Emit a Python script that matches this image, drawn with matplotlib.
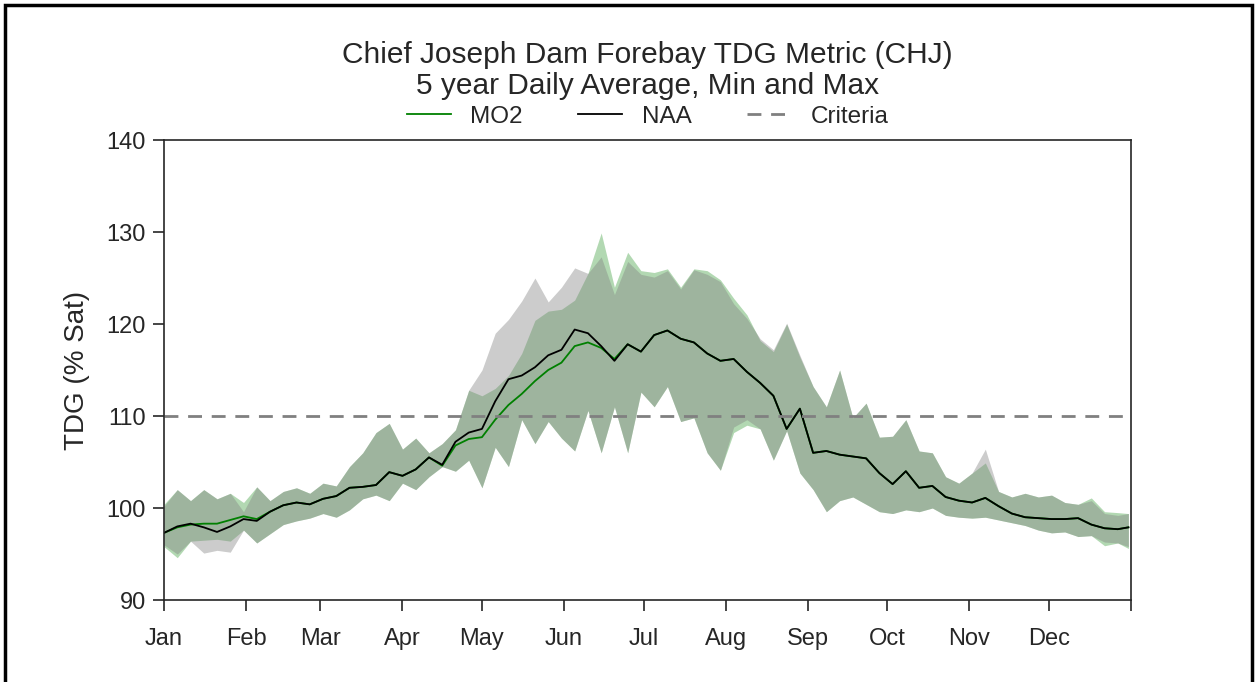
import matplotlib
matplotlib.use("Agg")
import matplotlib.pyplot as plt
from matplotlib.patches import Rectangle
import numpy as np

plt.rcParams["font.family"] = ["Liberation Sans", "DejaVu Sans"]

# day of year for each reading (5-day spacing)
days = list(range(0, 365, 5)) + [364]

naa_mean = [97.3, 98.0, 98.3, 97.9, 97.4, 98.0, 98.8, 98.6, 99.6, 100.3,
            100.6, 100.4, 101.0, 101.3, 102.2, 102.3, 102.5, 103.9, 103.5, 104.2,
            105.5, 104.7, 107.2, 108.2, 108.6, 111.6, 114.0, 114.4, 115.3, 116.6,
            117.2, 119.4, 119.0, 117.6, 116.0, 117.8, 117.0, 118.8, 119.3, 118.4,
            118.0, 116.8, 116.0, 116.2, 114.8, 113.6, 112.2, 108.6, 110.8, 106.0,
            106.2, 105.8, 105.6, 105.4, 103.8, 102.6, 104.0, 102.2, 102.4, 101.2,
            100.8, 100.6, 101.1, 100.2, 99.4, 99.0, 98.9, 98.8, 98.8, 98.9,
            98.2, 97.8, 97.7, 97.9]
mo2_mean = [97.3, 97.9, 98.2, 98.3, 98.3, 98.7, 99.1, 98.8, 99.6, 100.3,
            100.6, 100.4, 101.0, 101.3, 102.2, 102.3, 102.5, 103.9, 103.5, 104.2,
            105.5, 104.6, 106.8, 107.5, 107.7, 109.6, 111.2, 112.4, 113.8, 115.0,
            115.8, 117.6, 118.0, 117.4, 116.2, 117.8, 117.0, 118.8, 119.3, 118.4,
            118.0, 116.8, 116.0, 116.2, 114.8, 113.6, 112.2, 108.6, 110.8, 106.0,
            106.2, 105.8, 105.6, 105.4, 103.8, 102.6, 104.0, 102.2, 102.4, 101.2,
            100.8, 100.6, 101.1, 100.2, 99.4, 99.0, 98.9, 98.8, 98.8, 98.9,
            98.2, 97.8, 97.7, 97.9]

naa_max = [100.2, 102.0, 100.8, 102.0, 101.0, 101.6, 99.6, 102.3, 100.8, 101.8,
           102.2, 101.6, 102.7, 102.4, 104.5, 106.0, 108.2, 109.2, 106.4, 107.6,
           106.0, 107.0, 108.5, 112.8, 115.0, 119.0, 120.5, 122.5, 125.0, 122.4,
           124.0, 126.1, 125.5, 127.3, 123.2, 126.8, 125.4, 125.1, 125.8, 123.8,
           125.9, 125.4, 124.6, 122.2, 120.6, 118.4, 117.2, 120.1, 116.6, 113.2,
           111.0, 115.0, 109.8, 111.4, 107.7, 107.8, 109.6, 106.2, 106.0, 103.4,
           102.7, 103.8, 106.4, 101.8, 101.2, 101.6, 101.2, 101.4, 100.6, 100.4,
           100.8, 99.4, 99.2, 99.4]
mo2_max = [100.4, 102.0, 100.8, 102.0, 101.0, 101.6, 100.6, 102.3, 100.8, 101.8,
           102.2, 101.6, 102.7, 102.4, 104.5, 106.0, 108.2, 109.2, 106.4, 107.6,
           106.0, 107.0, 108.5, 112.8, 112.2, 113.0, 114.4, 116.8, 120.4, 121.4,
           121.6, 122.6, 125.5, 129.9, 124.0, 127.8, 125.8, 125.6, 126.0, 124.0,
           126.0, 125.8, 124.8, 122.8, 121.0, 118.2, 117.0, 120.0, 116.4, 113.2,
           111.0, 115.0, 109.8, 111.4, 107.7, 107.8, 109.6, 106.2, 106.0, 103.4,
           102.7, 103.8, 104.9, 101.8, 101.2, 101.6, 101.2, 101.4, 100.6, 100.4,
           101.1, 99.6, 99.5, 99.4]

naa_min = [96.0, 95.0, 96.4, 95.1, 95.4, 95.2, 97.6, 96.2, 97.2, 98.2,
           98.6, 98.9, 99.4, 99.0, 99.8, 101.0, 101.4, 100.8, 102.7, 102.0,
           103.4, 104.5, 104.0, 105.2, 102.2, 106.6, 104.5, 109.6, 107.0, 109.4,
           107.6, 106.2, 110.6, 106.0, 111.0, 106.0, 112.6, 111.0, 113.2, 109.4,
           109.8, 106.0, 104.1, 108.8, 109.6, 108.6, 105.2, 108.4, 103.8, 102.0,
           99.6, 100.8, 101.2, 100.4, 99.6, 99.4, 99.8, 99.6, 100.0, 99.2,
           99.0, 98.9, 99.0, 98.7, 98.4, 98.1, 97.6, 97.3, 97.4, 96.9,
           97.0, 96.3, 96.2, 95.8]
mo2_min = [95.8, 94.6, 96.4, 96.5, 96.6, 96.4, 97.6, 96.2, 97.2, 98.2,
           98.6, 98.9, 99.4, 99.0, 99.8, 101.0, 101.4, 100.8, 102.7, 102.0,
           103.4, 104.5, 104.0, 105.2, 102.2, 106.6, 104.5, 109.6, 107.0, 109.4,
           107.6, 106.2, 110.6, 106.0, 111.0, 106.0, 112.6, 111.0, 113.2, 109.4,
           109.8, 106.0, 104.1, 108.2, 109.0, 108.6, 105.2, 108.4, 103.8, 102.0,
           99.6, 100.8, 101.2, 100.4, 99.6, 99.4, 99.8, 99.6, 100.0, 99.2,
           99.0, 98.9, 99.0, 98.7, 98.4, 98.1, 97.6, 97.3, 97.4, 96.9,
           97.0, 95.9, 96.2, 95.6]

criteria = 110
month_starts = [0, 31, 59, 90, 120, 151, 181, 212, 243, 273, 304, 334, 365]
month_labels = ["Jan", "Feb", "Mar", "Apr", "May", "Jun", "Jul", "Aug",
                "Sep", "Oct", "Nov", "Dec", ""]
dark = "#262626"

fig = plt.figure(figsize=(12.57, 6.82), dpi=100)
ax = fig.add_axes([0.1305, 0.1202, 0.7693, 0.6745])

ax.fill_between(days, mo2_min, mo2_max, color="green", alpha=0.3, linewidth=0)
ax.fill_between(days, naa_min, naa_max, color="gray", alpha=0.4, linewidth=0)
ax.plot(days, mo2_mean, color="green", linewidth=1.3, label="MO2")
ax.plot(days, naa_mean, color="black", linewidth=1.3, label="NAA")
ax.axhline(criteria, color="gray", linestyle="--", linewidth=2, dashes=(5, 3.5),
           label="Criteria")

ax.set_xlim(0, 365)
ax.set_ylim(90, 140)
ax.set_yticks(range(90, 141, 10))
ax.set_xticks(month_starts)
ax.set_xticklabels(month_labels)
ax.tick_params(direction="out", length=8, width=1.2, colors=dark, labelsize=17)
ax.tick_params(axis="x", pad=12)
ax.tick_params(axis="y", pad=5)
for sp in ax.spines.values():
    sp.set_color(dark)
    sp.set_linewidth(1.2)
ax.set_ylabel("TDG (% Sat)", fontsize=20, color=dark, labelpad=12)

ax.set_title("Chief Joseph Dam Forebay TDG Metric (CHJ)\n5 year Daily Average, Min and Max",
             fontsize=21.5, color=dark, pad=33, linespacing=1.15)
ax.legend(loc="lower center", bbox_to_anchor=(0.5, 0.99), ncol=3, frameon=False,
          fontsize=17.5, handlelength=1.8, columnspacing=2.3, labelcolor=dark,
          borderpad=0.2)

fig.add_artist(Rectangle((0.004, -0.05), 0.992, 1.042, transform=fig.transFigure,
                         fill=False, edgecolor="black", linewidth=2.5))

fig.savefig("out.png", dpi=100)
